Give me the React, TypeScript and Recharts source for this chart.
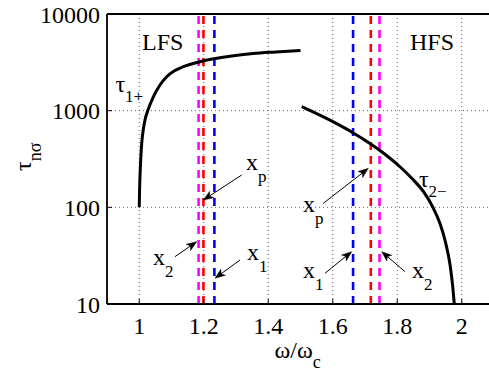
import React from 'react';
import { LineChart, Line, XAxis, YAxis, CartesianGrid, ReferenceLine, ReferenceDot } from 'recharts';

// tau_{1+} branch (LFS)
const tau1X = [1.0, 1.0008, 1.0023, 1.0045, 1.0076, 1.0119, 1.0178, 1.0271, 1.0426, 1.0643, 1.0851, 1.1078, 1.1366, 1.1884, 1.2318, 1.2814, 1.3527, 1.424, 1.5];
const tau1Y = [100, 141, 207, 309, 459, 616, 801, 1016, 1368, 1843, 2245, 2573, 2851, 3209, 3440, 3660, 3903, 4050, 4190];
// tau_{2-} branch (HFS)
const tau2X = [1.5037, 1.6017, 1.6597, 1.7155, 1.762, 1.8085, 1.8488, 1.8814, 1.9099, 1.9326, 1.9499, 1.9636, 1.9719, 1.9769];
const tau2Y = [1099, 765, 599, 458, 354, 263, 194, 145, 101, 67.9, 43.2, 25.6, 15.3, 10];

const xTicks = [1, 1.2, 1.4, 1.6, 1.8, 2];
const yTicks = [10, 100, 1000, 10000];
const yMinorTicks = [20, 30, 40, 50, 60, 70, 80, 90, 200, 300, 400, 500, 600, 700, 800, 900, 2000, 3000, 4000, 5000, 6000, 7000, 8000, 9000];

// vertical dashed marker positions (x2, xp, x1 for LFS; x1, xp, x2 for HFS)
const markerX = [1.184, 1.199, 1.233, 1.663, 1.718, 1.745];
const markerColors = ['#ff00ff', '#ff0000', '#0000ff', '#0000ff', '#ff0000', '#ff00ff'];

// annotation arrows: tail -> head (data coordinates)
const arrowTailX = [1.3177, 1.1109, 1.3124, 1.5707, 1.576, 1.824];
const arrowTailY = [216, 30.9, 28.5, 110, 20.8, 21.6];
const arrowHeadX = [1.1986, 1.1781, 1.2349, 1.7102, 1.6587, 1.7518];
const arrowHeadY = [119, 44.1, 18.5, 253, 34.8, 34.8];

// text labels
const labelMain = ['LFS', 'HFS', 'τ', 'τ', 'x', 'x', 'x', 'x', 'x', 'x'];
const labelSub = ['', '', '1+', '2−', 'p', '2', '1', 'p', '1', '2'];
const labelX = [1.0085, 1.8395, 0.926, 1.8673, 1.331, 1.0426, 1.3341, 1.5078, 1.5078, 1.8457];
const labelY = [4242, 4242, 1560, 162, 243, 25.3, 28.5, 89.5, 18.6, 18.6];

const FONT = 'Liberation Serif, Times New Roman, serif';

const tau1 = tau1X.map((x, i) => ({ x, y: tau1Y[i] }));
const tau2 = tau2X.map((x, i) => ({ x, y: tau2Y[i] }));

const Arrow = (props: any) => {
  const { x1, y1, x2, y2 } = props;
  const dx = x2 - x1;
  const dy = y2 - y1;
  const len = Math.hypot(dx, dy) || 1;
  const ux = dx / len;
  const uy = dy / len;
  const hl = 10;
  const hw = 3.8;
  const bx = x2 - ux * hl;
  const by = y2 - uy * hl;
  const nx = x2 - ux * hl * 0.75;
  const ny = y2 - uy * hl * 0.75;
  const pts = `${x2},${y2} ${bx - uy * hw},${by + ux * hw} ${nx},${ny} ${bx + uy * hw},${by - ux * hw}`;
  return (
    <g>
      <line x1={x1} y1={y1} x2={nx} y2={ny} stroke="#000" strokeWidth={1} />
      <polygon points={pts} fill="#000" stroke="#000" strokeWidth={0.5} />
    </g>
  );
};

const makeLabel = (main: string, sub: string) => (props: any) => (
  <text x={props.cx} y={props.cy} style={{ fontFamily: FONT }} fontSize={24} fill="#000">
    <tspan>{main}</tspan>
    {sub ? (
      <tspan dy={main === 'τ' ? 10 : 12} fontSize={17}>
        {sub}
      </tspan>
    ) : null}
  </text>
);

const YLabel = (props: any) => {
  const vb = props.viewBox || { x: 0, y: 0, width: 0, height: 0 };
  const x = vb.x + 31;
  const y = vb.y + vb.height / 2 + 12;
  return (
    <text x={x} y={y} transform={`rotate(-90 ${x} ${y})`} style={{ fontFamily: FONT }} fontSize={24} fill="#000">
      <tspan>τ</tspan>
      <tspan dy={10} fontSize={18}>nσ</tspan>
    </text>
  );
};

const XLabel = (props: any) => {
  const vb = props.viewBox || { x: 0, y: 0, width: 0, height: 0 };
  const x = vb.x + vb.width / 2 - 26;
  const y = vb.y + 54;
  return (
    <text x={x} y={y} style={{ fontFamily: FONT }} fontSize={24} fill="#000">
      <tspan>ω/ω</tspan>
      <tspan dy={10} fontSize={18}>c</tspan>
    </text>
  );
};

const XTick = (p: any) => (
  <text x={p.x} y={p.y} dy="0.71em" textAnchor="middle" style={{ fontFamily: FONT }} fontSize={24} fill="#000">
    {String(p.payload.value)}
  </text>
);

const YTick = (p: any) => (
  <text x={p.x} y={p.y} dy="0.355em" textAnchor="end" style={{ fontFamily: FONT }} fontSize={24} fill="#000">
    {String(p.payload.value)}
  </text>
);

export default function App() {
  return (
    <div style={{ position: 'absolute', left: 0, top: 0, width: 489, height: 384, overflow: 'hidden', background: '#fff' }}>
      <LineChart width={500} height={384} margin={{ top: 14, right: 6, bottom: 0, left: 0 }}>
        <CartesianGrid stroke="#666" strokeDasharray="1 3" strokeWidth={1} />
        <XAxis
          dataKey="x"
          type="number"
          domain={[0.9, 2.1]}
          ticks={xTicks}
          interval={0}
          allowDataOverflow
          height={80}
          tickSize={-5}
          tickMargin={18}
          tick={<XTick />}
          axisLine={{ stroke: '#000', strokeWidth: 1.8 }}
          tickLine={{ stroke: '#000', strokeWidth: 1 }}
          label={<XLabel />}
        />
        <XAxis
          xAxisId="top"
          orientation="top"
          mirror
          type="number"
          domain={[0.9, 2.1]}
          ticks={xTicks}
          interval={0}
          allowDataOverflow
          tick={false}
          tickSize={5}
          axisLine={{ stroke: '#000', strokeWidth: 1.8 }}
          tickLine={{ stroke: '#000', strokeWidth: 1 }}
        />
        <YAxis
          scale="log"
          type="number"
          domain={[10, 10000]}
          ticks={yTicks}
          interval={0}
          allowDataOverflow
          width={107}
          tickSize={-5}
          tickMargin={12}
          tick={<YTick />}
          axisLine={{ stroke: '#000', strokeWidth: 1.8 }}
          tickLine={{ stroke: '#000', strokeWidth: 1 }}
          label={<YLabel />}
        />
        <YAxis
          yAxisId="minor"
          mirror
          scale="log"
          type="number"
          domain={[10, 10000]}
          ticks={yMinorTicks}
          interval={0}
          allowDataOverflow
          width={0}
          tick={false}
          tickSize={3}
          axisLine={false}
          tickLine={{ stroke: '#000', strokeWidth: 1 }}
        />
        {markerX.map((x, i) => (
          <ReferenceLine
            key={`m${i}`}
            x={x}
            stroke={markerColors[i]}
            strokeWidth={2.6}
            strokeDasharray="8 6"
          />
        ))}
        <Line data={tau1} dataKey="y" type="monotone" stroke="#000" strokeWidth={3} dot={false} isAnimationActive={false} />
        <Line data={tau2} dataKey="y" type="monotone" stroke="#000" strokeWidth={3} dot={false} isAnimationActive={false} />
        {arrowTailX.map((x, i) => (
          <ReferenceLine
            key={`a${i}`}
            segment={[
              { x, y: arrowTailY[i] },
              { x: arrowHeadX[i], y: arrowHeadY[i] },
            ]}
            shape={(p: any) => <Arrow {...p} />}
          />
        ))}
        {labelX.map((x, i) => (
          <ReferenceDot
            key={`l${i}`}
            x={x}
            y={labelY[i]}
            r={1}
            shape={makeLabel(labelMain[i], labelSub[i])}
          />
        ))}
      </LineChart>
    </div>
  );
}
